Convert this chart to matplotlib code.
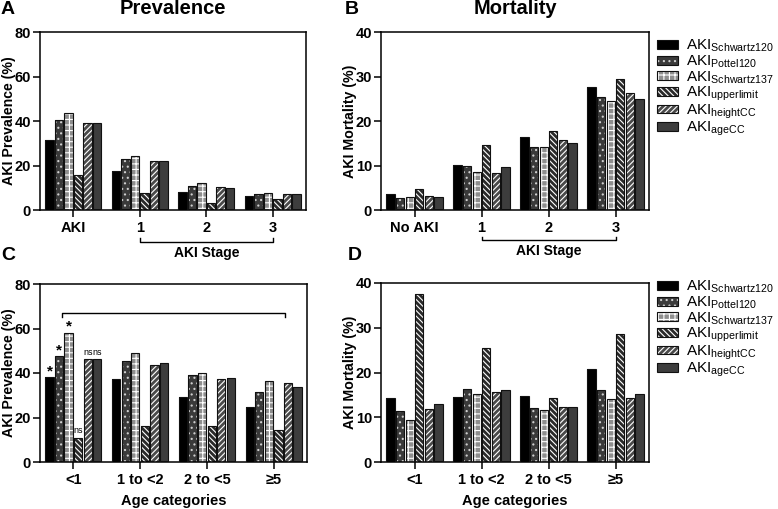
import matplotlib
matplotlib.use("Agg")
import matplotlib.pyplot as plt
import numpy as np
from matplotlib.patches import Patch
from matplotlib.legend_handler import HandlerTuple

plt.rcParams['font.family'] = ['Liberation Sans', 'DejaVu Sans']
plt.rcParams['mathtext.fontset'] = 'custom'
plt.rcParams['mathtext.rm'] = 'Liberation Sans'
plt.rcParams['mathtext.it'] = 'Liberation Sans:italic'
plt.rcParams['mathtext.bf'] = 'Liberation Sans:bold'
plt.rcParams['mathtext.default'] = 'rm'
plt.rcParams['hatch.linewidth'] = 0.8

# ---------------- data ----------------
series = ['Schwartz120', 'Pottel120', 'Schwartz137', 'upperlimit', 'heightCC', 'ageCC']

stage_cats_A = ['AKI', '1', '2', '3']
prev_stage = {
    'Schwartz120': [31.5, 17.5, 8.2, 6.3],
    'Pottel120':   [40.4, 22.8, 10.8, 7.2],
    'Schwartz137': [43.4, 24.3, 12.0, 7.5],
    'upperlimit':  [15.7, 7.7, 3.1, 4.9],
    'heightCC':    [39.2, 22.2, 10.2, 7.0],
    'ageCC':       [39.2, 22.2, 9.9, 7.0],
}

stage_cats_B = ['No AKI', '1', '2', '3']
mort_stage = {
    'Schwartz120': [3.5, 10.2, 16.3, 27.7],
    'Pottel120':   [2.6, 9.8, 14.2, 25.3],
    'Schwartz137': [2.85, 8.5, 14.25, 24.4],
    'upperlimit':  [4.7, 14.5, 17.7, 29.4],
    'heightCC':    [3.1, 8.3, 15.7, 26.4],
    'ageCC':       [2.85, 9.6, 15.1, 25.0],
}

age_cats = ['<1', '1 to <2', '2 to <5', '≥5']
prev_age = {
    'Schwartz120': [38.0, 37.3, 29.3, 24.6],
    'Pottel120':   [47.5, 45.4, 39.0, 31.5],
    'Schwartz137': [58.2, 49.0, 40.2, 36.6],
    'upperlimit':  [11.0, 16.1, 16.4, 14.3],
    'heightCC':    [46.1, 43.6, 37.1, 35.7],
    'ageCC':       [46.1, 44.3, 37.8, 33.5],
}
mort_age = {
    'Schwartz120': [14.3, 14.6, 14.85, 20.85],
    'Pottel120':   [11.5, 16.3, 12.1, 16.2],
    'Schwartz137': [9.4, 15.3, 11.6, 14.0],
    'upperlimit':  [37.6, 25.5, 14.2, 28.7],
    'heightCC':    [11.9, 15.6, 12.2, 14.4],
    'ageCC':       [13.0, 16.1, 12.4, 15.3],
}
sig_labels_C = ['*', '*', '*', 'ns', 'ns', 'ns']

# ---------------- styles ----------------
styles = {
    'Schwartz120': dict(fc='#000000', hc='white', hatch=None),
    'Pottel120':   dict(fc='#3a3a3a', hc='#cfcfcf', hatch='...'),
    'Schwartz137': dict(fc='#8e8e8e', hc='white', hatch='+++'),
    'upperlimit':  dict(fc='#2a2a2a', hc='white', hatch='\\\\\\\\\\\\'),
    'heightCC':    dict(fc='#4a4a4a', hc='white', hatch='//////'),
    'ageCC':       dict(fc='#3d3d3d', hc='white', hatch=None),
}

fig = plt.figure(figsize=(7.78, 5.09), dpi=100)
W, H = 778, 509

def ax_rect(l, r, t, b):
    return [l / W, 1 - b / H, (r - l) / W, (b - t) / H]

axA = fig.add_axes(ax_rect(40, 306, 32, 210))
axB = fig.add_axes(ax_rect(381, 649, 32, 210))
axC = fig.add_axes(ax_rect(40, 307, 284, 462))
axD = fig.add_axes(ax_rect(381, 649, 283, 462))

step = 0.143
bw = 0.124
offsets = (np.arange(6) - 2.5) * step

def draw(ax, cats, data, ymax, yticks):
    x = np.arange(len(cats))
    for i, s in enumerate(series):
        st = styles[s]
        ax.bar(x + offsets[i], data[s], bw, color=st['fc'], edgecolor=st['hc'],
               hatch=st['hatch'], linewidth=0, zorder=2)
        ax.bar(x + offsets[i], data[s], bw, fill=False, edgecolor='#111111',
               linewidth=0.8, zorder=3)
    ax.set_xlim(-0.5, len(cats) - 0.5)
    ax.set_ylim(0, ymax)
    ax.set_yticks(yticks)
    ax.set_xticks(x)
    ax.set_xticklabels(cats)
    for sp in ax.spines.values():
        sp.set_linewidth(1.1)
    ax.tick_params(axis='both', direction='out', length=5, width=1.1, labelsize=10.5)
    ax.tick_params(axis='y', pad=1.5)
    ax.tick_params(axis='x', pad=3)
    for lab in ax.get_xticklabels() + ax.get_yticklabels():
        lab.set_fontweight('bold')
    return x

xA = draw(axA, stage_cats_A, prev_stage, 80, [0, 20, 40, 60, 80])
xB = draw(axB, stage_cats_B, mort_stage, 40, [0, 10, 20, 30, 40])
xC = draw(axC, age_cats, prev_age, 80, [0, 20, 40, 60, 80])
xD = draw(axD, age_cats, mort_age, 40, [0, 10, 20, 30, 40])

for ax, lab, lx in ((axA, 'AKI Prevalence (%)', 9), (axC, 'AKI Prevalence (%)', 9),
                    (axB, 'AKI Mortality (%)', 350), (axD, 'AKI Mortality (%)', 350)):
    ax.set_ylabel(lab, fontsize=10.2, fontweight='bold')
    x0 = ax.get_position().x0 * W
    wpx = ax.get_position().width * W
    ax.yaxis.set_label_coords((lx - x0) / wpx, 0.5)
    ax.yaxis.label.set_va('center')
axC.set_xlabel('Age categories', fontsize=10.5, fontweight='bold', labelpad=5)
axD.set_xlabel('Age categories', fontsize=10.5, fontweight='bold', labelpad=5)

# AKI Stage brackets
for ax, yline in ((axA, -0.178), (axB, -0.169)):
    tr = ax.get_xaxis_transform()
    ax.plot([1, 1, 3, 3], [yline + 0.02, yline, yline, yline + 0.02], color='black',
            lw=1.0, transform=tr, clip_on=False)
    ax.text(2, yline - 0.022, 'AKI Stage', transform=tr, ha='center', va='top',
            fontsize=10, fontweight='bold')

# significance bracket + labels in C
axC.plot([-0.175, -0.175, 3.17, 3.17], [65.3, 66.8, 66.8, 65.3], color='black',
         lw=1.0, clip_on=False)
for i, s in enumerate(series):
    v = prev_age[s][0]
    lab = sig_labels_C[i]
    if lab == '*':
        axC.annotate(lab, xy=(xC[0] + offsets[i], v), xytext=(0, -1),
                     textcoords='offset points', ha='center', va='bottom',
                     fontsize=11, fontweight='bold')
    else:
        axC.annotate(lab, xy=(xC[0] + offsets[i], v), xytext=(0, 2),
                     textcoords='offset points', ha='center', va='bottom',
                     fontsize=6.5)

# titles and panel letters
fig.text(173 / W, 1 - 9 / H, 'Prevalence', ha='center', va='center', fontsize=14.5, fontweight='bold')
fig.text(515 / W, 1 - 9 / H, 'Mortality', ha='center', va='center', fontsize=14.5, fontweight='bold')
for lt, (px, py) in zip('ABCD', [(1, 9), (345, 9), (1, 255), (348, 255)]):
    fig.text(px / W, 1 - py / H, lt, ha='left', va='center', fontsize=14, fontweight='bold')

# legends
def make_handles():
    hs = []
    for s in series:
        st = styles[s]
        h1 = Patch(facecolor=st['fc'], edgecolor=st['hc'], hatch=st['hatch'], linewidth=0)
        h2 = Patch(fill=False, edgecolor='#111111', linewidth=0.8)
        hs.append((h1, h2))
    return hs

labels = [r'AKI$_{\mathrm{' + s + '}}$' for s in series]
for ytop in (38, 279):
    fig.legend(make_handles(), labels, loc='upper left',
               bbox_to_anchor=(657 / W, 1 - ytop / H), frameon=False,
               fontsize=11, handler_map={tuple: HandlerTuple(ndivide=1, pad=0)},
               handlelength=1.35, handleheight=0.5, handletextpad=0.55,
               labelspacing=-0.05, borderpad=0, borderaxespad=0)

fig.savefig('out.png', dpi=100)
